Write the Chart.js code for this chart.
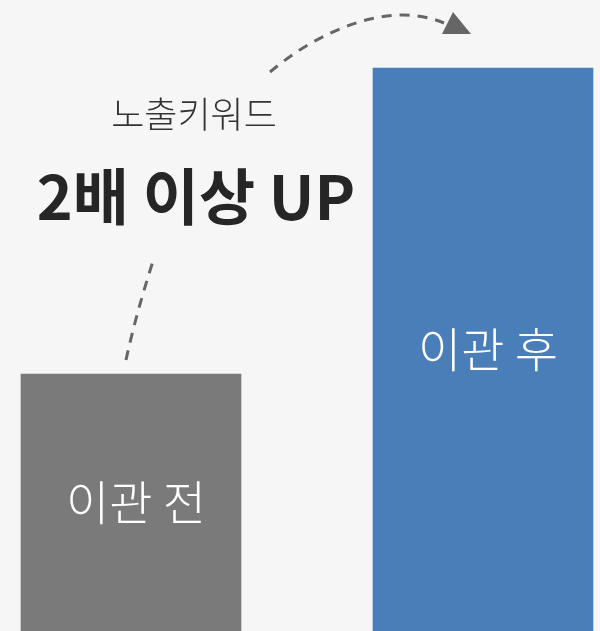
<!DOCTYPE html>
<html lang="ko">
<head>
    <meta charset="UTF-8">
    <meta name="viewport" content="width=device-width, initial-scale=1.0">
    <style>
        html, body { margin: 0; padding: 0; background: #f6f6f6; overflow: hidden; }
        canvas { display: block; }
    </style>
</head>
<body>
    <canvas id="barChart" width="600" height="631"></canvas>

    <script src="https://cdn.jsdelivr.net/npm/chart.js"></script>
    <script>
        // data
        const categories = ["이관 전", "이관 후"];
        const keywordExposure = [100, 219];
        const barColors = ["#7a7a7a", "#497eb9"];
        const headlineSmall = "노출키워드";
        const headlineBig = "2배 이상 UP";

        const FONT = "'Noto Sans CJK KR', 'Noto Sans', sans-serif";

        // labels inside bars
        const barLabels = {
            id: "barLabels",
            afterDatasetsDraw(chart) {
                const ctx = chart.ctx;
                const meta = chart.getDatasetMeta(0);
                ctx.save();
                ctx.fillStyle = "#ffffff";
                ctx.font = "300 47px " + FONT;
                ctx.textAlign = "center";
                ctx.textBaseline = "middle";
                meta.data.forEach((bar, i) => {
                    ctx.fillText(categories[i], bar.x + 5, (bar.y + bar.base) / 2);
                });
                ctx.restore();
            }
        };

        // headline text + dashed arrows
        const callout = {
            id: "callout",
            afterDraw(chart) {
                const ctx = chart.ctx;
                ctx.save();
                ctx.textAlign = "center";
                ctx.textBaseline = "middle";
                ctx.fillStyle = "#333333";
                ctx.font = "300 36px " + FONT;
                ctx.fillText(headlineSmall, 194, 114);
                ctx.fillStyle = "#262626";
                ctx.font = "bold 61px " + FONT;
                ctx.fillText(headlineBig, 196, 197);

                ctx.strokeStyle = "#666666";
                ctx.lineWidth = 3;
                ctx.setLineDash([10, 8]);
                ctx.beginPath();
                ctx.moveTo(126, 360);
                ctx.quadraticCurveTo(136, 314, 154, 258);
                ctx.stroke();

                ctx.beginPath();
                ctx.moveTo(270, 72);
                ctx.bezierCurveTo(320, 30, 390, 0, 444, 23);
                ctx.stroke();

                ctx.setLineDash([]);
                ctx.fillStyle = "#666666";
                ctx.beginPath();
                ctx.moveTo(453, 12);
                ctx.lineTo(471, 34);
                ctx.lineTo(442, 34);
                ctx.closePath();
                ctx.fill();
                ctx.restore();
            }
        };

        const config = {
            type: "bar",
            data: {
                labels: categories,
                datasets: [{
                    data: keywordExposure,
                    backgroundColor: barColors,
                    borderWidth: 0,
                    barThickness: 220,
                    clip: false
                }]
            },
            options: {
                responsive: false,
                animation: false,
                layout: {
                    padding: { left: 131, right: 117, top: 0, bottom: 0 }
                },
                plugins: {
                    legend: { display: false },
                    tooltip: { enabled: false }
                },
                scales: {
                    x: { display: false, offset: false },
                    y: { display: false, min: 0, max: 245.5 }
                }
            },
            plugins: [barLabels, callout]
        };

        const ctx = document.getElementById("barChart").getContext("2d");
        new Chart(ctx, config);
    </script>
</body>
</html>
